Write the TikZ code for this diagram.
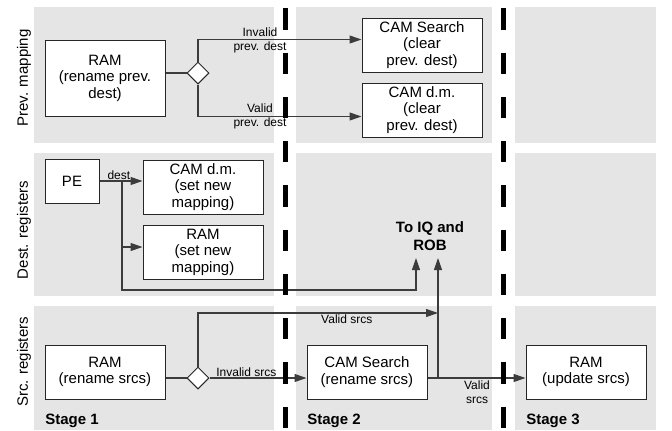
\documentclass[tikz,border=0pt]{standalone}
\usepackage{fontspec}
\setmainfont{Liberation Sans}
\usetikzlibrary{arrows.meta,shapes.geometric}

\definecolor{panelgray}{RGB}{229,229,229}
\definecolor{linegray}{RGB}{60,60,60}

\begin{document}
\begin{tikzpicture}[x=0.75pt,y=-0.75pt,
  panel/.style={fill=panelgray,draw=none},
  blk/.style={draw=black!85,fill=white,line width=0.75pt,minimum width=90pt,minimum height=40.5pt,
    align=center,inner sep=0pt,font=\fontsize{11.25}{12.4}\selectfont},
  dec/.style={diamond,draw=black!85,fill=white,line width=0.75pt,minimum size=16.5pt,inner sep=0pt},
  conn/.style={draw=linegray,line width=0.8pt},
  arr/.style={conn,-{Triangle[length=9pt,width=6pt]}},
  lbl/.style={align=center,inner sep=1pt,font=\fontsize{9}{10.5}\selectfont},
  rowlbl/.style={rotate=90,inner sep=0pt,font=\fontsize{11.25}{13}\selectfont},
  stagelbl/.style={anchor=west,inner sep=0pt,font=\fontsize{11.25}{13}\bfseries},
  stagesep/.style={line width=3.75pt,dash pattern=on 16pt off 17.2pt,dash phase=27pt}]
\useasboundingbox (0,0) rectangle (672,430);

% background panels
\fill[panel] (34,7) rectangle (274,143);
\fill[panel] (296,7) rectangle (492,143);
\fill[panel] (515,7) rectangle (656,143);
\fill[panel] (34,153) rectangle (274,296);
\fill[panel] (296,153) rectangle (492,296);
\fill[panel] (515,153) rectangle (656,296);
\fill[panel] (34,306) rectangle (274,430);
\fill[panel] (296,306) rectangle (492,430);
\fill[panel] (515,306) rectangle (656,430);

\node[rowlbl] (rl1) at (24,78) {Prev. mapping};
\node[rowlbl] (rl2) at (24,230) {Dest. registers};
\node[rowlbl] (rl3) at (24,362) {Src. registers};

% prev. mapping
\node[blk,minimum height=57pt] (ramprev) at (105,78) {RAM\\(rename prev.\\dest)};
\node[dec] (dia1) at (198,73) {};
\node[blk] (camclr) at (422,45) {CAM Search\\(clear\\prev. dest)};
\node[blk] (dmclr) at (422,110) {CAM d.m.\\(clear\\prev. dest)};
\draw[conn] (ramprev.east |- dia1) -- (dia1.west);
\draw[arr] (dia1.north) |- (camclr.west |- ramprev.north);
\draw[arr] (dia1.south) |- (dmclr.west |- ramprev.south);
\node[lbl] (inv1) at (260,40) {Invalid\\prev. dest};
\node[lbl] (val1) at (260,116) {Valid\\prev. dest};

% dest. registers
\node[blk,minimum width=40.5pt,minimum height=33pt] (pe) at (72,181) {PE};
\node[blk] (dmset) at (203,187) {CAM d.m.\\(set new\\mapping)};
\node[blk] (ramset) at (203,252) {RAM\\(set new\\mapping)};
\node[font=\fontsize{11.25}{13.5}\bfseries,align=center,inner sep=0pt] (toiq) at (430,236) {To IQ and\\ROB};
\coordinate (br) at (122,181);
\coordinate (iq1) at (416,258);
\coordinate (iq2) at (438,258);
\draw[arr] (pe.east) -- node[lbl,above,pos=0.45,inner sep=0.5pt] (dst) {dest} (dmset.west |- pe.east);
\draw[arr] (br) |- ([yshift=3.75pt]ramset.west);
\draw[arr] (br) |- (iq1 |- 0,290) -- (iq1);

% src. registers
\node[blk] (ramsrc) at (105,372) {RAM\\(rename srcs)};
\node[dec] (dia3) at (198,378) {};
\node[blk] (camsrc) at (367,372) {CAM Search\\(rename srcs)};
\node[blk] (ramupd) at (586,372) {RAM\\(update srcs)};
\coordinate (jn) at (438,378);
\draw[conn] (ramsrc.east |- dia3) -- (dia3.west);
\draw[arr] (dia3.east) -- node[lbl,above,pos=0.38] (inv3) {Invalid srcs} (camsrc.west |- dia3);
\draw[arr] (dia3.north) |- node[lbl,below,pos=0.81] (val3) {Valid srcs} (jn |- 0,313);
\draw[arr] (camsrc.east |- jn) -- (ramupd.west |- jn);
\node[lbl] (val4) at (477,392) {Valid\\srcs};
\draw[arr] (jn) -- (iq2);

\node[stagelbl] (st1) at (45,421) {Stage 1};
\node[stagelbl] (st2) at (307,421) {Stage 2};
\node[stagelbl] (st3) at (526,421) {Stage 3};

% stage boundaries
\draw[stagesep] (285,0) -- (285,430);
\draw[stagesep] (503,0) -- (503,430);
\end{tikzpicture}
\end{document}
